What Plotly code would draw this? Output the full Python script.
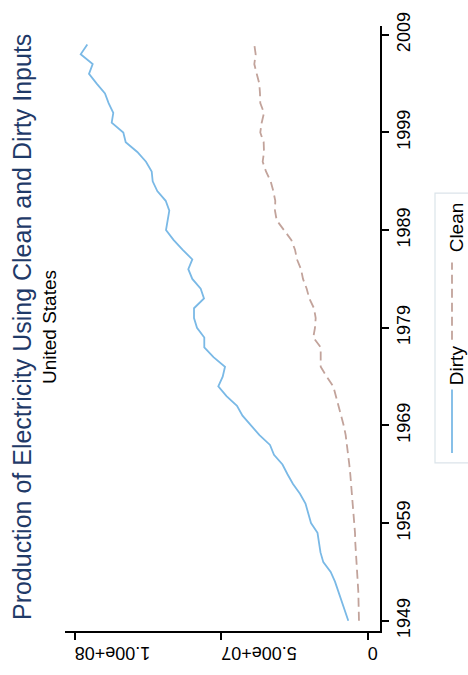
import plotly.graph_objects as go

# Annual electricity production, United States, 1949-2008
years = list(range(1949, 2009))

dirty = [
    6.62e6, 7.75e6, 8.87e6, 10.03e6, 11.16e6, 12.63e6, 15.15e6, 16.11e6, 16.69e6, 17.13e6,
    19.35e6, 20.38e6, 21.23e6, 23.11e6, 25.49e6, 27.37e6, 29.08e6, 31.98e6, 33.34e6, 36.93e6,
    39.83e6, 42.73e6, 44.61e6, 48.19e6, 50.99e6, 49.49e6, 48.70e6, 52.63e6, 55.77e6, 55.77e6,
    58.26e6, 59.28e6, 59.28e6, 55.87e6, 57.00e6, 59.86e6, 61.23e6, 59.86e6, 63.21e6, 66.28e6,
    68.84e6, 68.26e6, 67.71e6, 68.94e6, 71.81e6, 73.38e6, 73.72e6, 75.66e6, 78.63e6, 82.59e6,
    83.41e6, 87.37e6, 86.83e6, 88.43e6, 89.66e6, 92.49e6, 95.12e6, 93.86e6, 97.95e6, 95.70e6,
]

clean = [
    2.97e6, 2.97e6, 2.97e6, 3.21e6, 3.41e6, 3.65e6, 3.75e6, 3.99e6, 4.23e6, 4.33e6,
    4.57e6, 4.78e6, 5.02e6, 5.26e6, 5.46e6, 5.94e6, 6.28e6, 6.62e6, 7.06e6, 7.51e6,
    8.19e6, 9.11e6, 9.90e6, 10.92e6, 11.74e6, 13.99e6, 16.04e6, 16.04e6, 16.04e6, 18.57e6,
    17.99e6, 17.75e6, 18.33e6, 19.93e6, 20.82e6, 22.08e6, 22.76e6, 24.13e6, 24.81e6, 26.08e6,
    28.57e6, 31.06e6, 31.64e6, 31.54e6, 32.22e6, 33.11e6, 34.71e6, 35.84e6, 35.39e6, 35.50e6,
    36.66e6, 36.18e6, 35.39e6, 36.66e6, 36.76e6, 37.00e6, 37.88e6, 38.70e6, 38.23e6, 38.70e6,
]

year_ticks = [1949, 1959, 1969, 1979, 1989, 1999, 2009]
value_ticks = [0, 5e7, 1e8]
value_tick_text = ["0", "5.00e+07", "1.00e+08"]

title_text = "Production of Electricity Using Clean and Dirty Inputs"
subtitle_text = "United States"
series_names = ["Dirty", "Clean"]

DIRTY_COLOR = "#7ab9e6"
CLEAN_COLOR = "#c2a39b"
TITLE_COLOR = "#1f3a68"
FONT = "Liberation Sans, Arial, sans-serif"
DASH = "9px,5px"

W, H = 468, 675
L, R, T, B = 65, 88, 16, 40  # plot area: x 65..380, y 16..635


def px(x):
    return (x - L) / (W - L - R)


def py(y):
    return (H - B - y) / (H - T - B)


fig = go.Figure()
fig.add_trace(go.Scatter(
    x=dirty, y=years, mode="lines", name=series_names[0],
    line=dict(color=DIRTY_COLOR, width=1.8),
))
fig.add_trace(go.Scatter(
    x=clean, y=years, mode="lines", name=series_names[1],
    line=dict(color=CLEAN_COLOR, width=1.8, dash=DASH),
))

shapes = [
    # legend frame
    dict(type="rect", xref="paper", yref="paper",
         x0=px(435), x1=px(472), y0=py(463), y1=py(187),
         line=dict(color="#dbe4ea", width=1.2), fillcolor="white", layer="below"),
    # legend samples
    dict(type="line", xref="paper", yref="paper",
         x0=px(452), x1=px(452), y0=py(453), y1=py(388),
         line=dict(color=DIRTY_COLOR, width=1.8)),
    dict(type="line", xref="paper", yref="paper",
         x0=px(452), x1=px(452), y0=py(337), y1=py(258),
         line=dict(color=CLEAN_COLOR, width=1.8, dash=DASH)),
]

annotations = [
    dict(text=title_text, xref="paper", yref="paper", x=px(22), y=py(324),
         showarrow=False, textangle=-90, xanchor="center", yanchor="middle",
         font=dict(family=FONT, size=25, color=TITLE_COLOR)),
    dict(text=subtitle_text, xref="paper", yref="paper", x=px(49), y=py(324),
         showarrow=False, textangle=-90, xanchor="center", yanchor="middle",
         font=dict(family=FONT, size=19, color="black")),
    dict(text=series_names[0], xref="paper", yref="paper", x=px(456), y=py(363),
         showarrow=False, textangle=-90, xanchor="center", yanchor="middle",
         font=dict(family=FONT, size=19, color="black")),
    dict(text=series_names[1], xref="paper", yref="paper", x=px(456), y=py(222),
         showarrow=False, textangle=-90, xanchor="center", yanchor="middle",
         font=dict(family=FONT, size=19, color="black")),
]

fig.update_layout(
    width=W, height=H,
    margin=dict(l=L, r=R, t=T, b=B, pad=0),
    paper_bgcolor="white", plot_bgcolor="white",
    showlegend=False,
    font=dict(family=FONT, size=18, color="black"),
    shapes=shapes, annotations=annotations,
)

fig.update_xaxes(
    range=[1.0331e8, -4.2e6],
    tickmode="array", tickvals=value_ticks, ticktext=value_tick_text,
    tickangle=180, ticks="outside", ticklen=7, tickwidth=1.5, tickcolor="black",
    showline=True, linecolor="black", linewidth=1.5,
    showgrid=False, zeroline=False, ticklabelstandoff=4,
    tickfont=dict(family=FONT, size=18, color="black"),
)
fig.update_yaxes(
    range=[1947.95, 2009.9], side="right",
    tickmode="array", tickvals=year_ticks,
    tickangle=-90, ticks="outside", ticklen=7, tickwidth=1.5, tickcolor="black",
    showline=True, linecolor="black", linewidth=1.5,
    showgrid=False, zeroline=False,
    tickfont=dict(family=FONT, size=18, color="black"),
)

fig.write_html("out.html")
